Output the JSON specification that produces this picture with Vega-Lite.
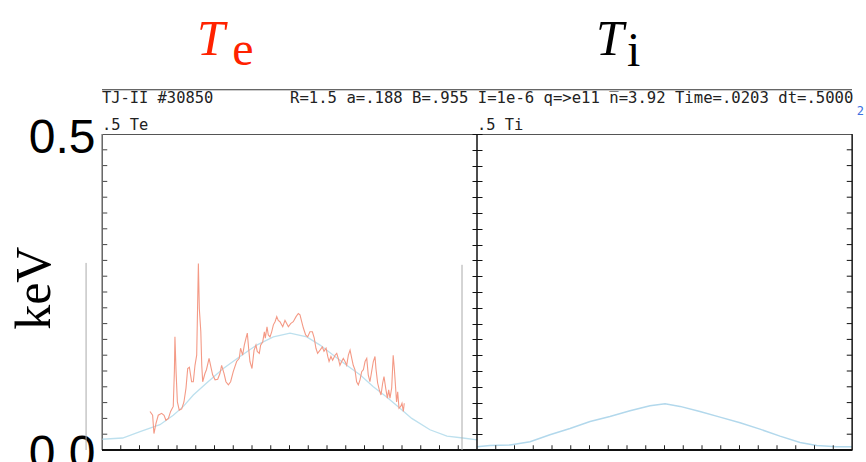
{
  "$schema": "https://vega.github.io/schema/vega-lite/v6.json",
  "autosize": {"type": "none"},
  "padding": {"left": 102, "top": 134, "right": 14, "bottom": 12},
  "width": 750,
  "height": 316,
  "background": "white",
  "config": {
    "view": {"stroke": "#555", "strokeWidth": 1},
    "axis": {"grid": false}
  },
  "datasets": {
    "te_model": [
      {"rho": -1.0, "te": 0.017}, {"rho": -0.89, "te": 0.019}, {"rho": -0.797, "te": 0.029},
      {"rho": -0.691, "te": 0.040}, {"rho": -0.62, "te": 0.055}, {"rho": -0.566, "te": 0.069},
      {"rho": -0.513, "te": 0.087}, {"rho": -0.442, "te": 0.106}, {"rho": -0.353, "te": 0.129},
      {"rho": -0.264, "te": 0.148}, {"rho": -0.175, "te": 0.166}, {"rho": -0.086, "te": 0.179},
      {"rho": 0.003, "te": 0.185}, {"rho": 0.092, "te": 0.179}, {"rho": 0.163, "te": 0.166},
      {"rho": 0.234, "te": 0.150}, {"rho": 0.305, "te": 0.134}, {"rho": 0.376, "te": 0.119},
      {"rho": 0.447, "te": 0.100}, {"rho": 0.518, "te": 0.084}, {"rho": 0.589, "te": 0.066},
      {"rho": 0.652, "te": 0.050}, {"rho": 0.749, "te": 0.032}, {"rho": 0.84, "te": 0.022},
      {"rho": 0.925, "te": 0.019}, {"rho": 1.0, "te": 0.016}
    ],
    "te_meas": [
      {"rho": -0.744, "te": 0.061}, {"rho": -0.730, "te": 0.055}, {"rho": -0.723, "te": 0.026},
      {"rho": -0.712, "te": 0.042}, {"rho": -0.700, "te": 0.055}, {"rho": -0.682, "te": 0.058},
      {"rho": -0.669, "te": 0.055}, {"rho": -0.659, "te": 0.047}, {"rho": -0.646, "te": 0.050},
      {"rho": -0.634, "te": 0.061}, {"rho": -0.620, "te": 0.069}, {"rho": -0.614, "te": 0.124},
      {"rho": -0.611, "te": 0.179}, {"rho": -0.605, "te": 0.124}, {"rho": -0.598, "te": 0.076},
      {"rho": -0.588, "te": 0.063}, {"rho": -0.575, "te": 0.065}, {"rho": -0.563, "te": 0.076},
      {"rho": -0.552, "te": 0.098}, {"rho": -0.543, "te": 0.129}, {"rho": -0.534, "te": 0.131},
      {"rho": -0.522, "te": 0.108}, {"rho": -0.513, "te": 0.108}, {"rho": -0.504, "te": 0.134},
      {"rho": -0.495, "te": 0.150}, {"rho": -0.491, "te": 0.214}, {"rho": -0.486, "te": 0.295},
      {"rho": -0.481, "te": 0.224}, {"rho": -0.473, "te": 0.187}, {"rho": -0.468, "te": 0.134},
      {"rho": -0.463, "te": 0.108}, {"rho": -0.451, "te": 0.121}, {"rho": -0.443, "te": 0.127},
      {"rho": -0.429, "te": 0.145}, {"rho": -0.419, "te": 0.131}, {"rho": -0.410, "te": 0.119},
      {"rho": -0.397, "te": 0.111}, {"rho": -0.383, "te": 0.112}, {"rho": -0.371, "te": 0.121},
      {"rho": -0.362, "te": 0.134}, {"rho": -0.349, "te": 0.121}, {"rho": -0.339, "te": 0.108},
      {"rho": -0.326, "te": 0.103}, {"rho": -0.314, "te": 0.108}, {"rho": -0.300, "te": 0.124},
      {"rho": -0.282, "te": 0.140}, {"rho": -0.268, "te": 0.145}, {"rho": -0.261, "te": 0.161},
      {"rho": -0.250, "te": 0.150}, {"rho": -0.241, "te": 0.166}, {"rho": -0.232, "te": 0.177},
      {"rho": -0.225, "te": 0.185}, {"rho": -0.218, "te": 0.161}, {"rho": -0.211, "te": 0.140},
      {"rho": -0.200, "te": 0.129}, {"rho": -0.189, "te": 0.158}, {"rho": -0.179, "te": 0.166},
      {"rho": -0.172, "te": 0.156}, {"rho": -0.161, "te": 0.153}, {"rho": -0.154, "te": 0.166},
      {"rho": -0.143, "te": 0.171}, {"rho": -0.134, "te": 0.187}, {"rho": -0.129, "te": 0.177},
      {"rho": -0.120, "te": 0.195}, {"rho": -0.113, "te": 0.182}, {"rho": -0.104, "te": 0.179},
      {"rho": -0.095, "te": 0.187}, {"rho": -0.086, "te": 0.198}, {"rho": -0.077, "te": 0.203},
      {"rho": -0.068, "te": 0.211}, {"rho": -0.060, "te": 0.205}, {"rho": -0.051, "te": 0.203},
      {"rho": -0.036, "te": 0.195}, {"rho": -0.024, "te": 0.205}, {"rho": -0.015, "te": 0.200},
      {"rho": -0.006, "te": 0.195}, {"rho": 0.006, "te": 0.200}, {"rho": 0.020, "te": 0.203},
      {"rho": 0.035, "te": 0.211}, {"rho": 0.047, "te": 0.216}, {"rho": 0.056, "te": 0.214},
      {"rho": 0.065, "te": 0.203}, {"rho": 0.074, "te": 0.193}, {"rho": 0.086, "te": 0.182},
      {"rho": 0.097, "te": 0.179}, {"rho": 0.109, "te": 0.187}, {"rho": 0.122, "te": 0.187},
      {"rho": 0.132, "te": 0.177}, {"rho": 0.141, "te": 0.161}, {"rho": 0.150, "te": 0.153},
      {"rho": 0.163, "te": 0.158}, {"rho": 0.175, "te": 0.163}, {"rho": 0.184, "te": 0.156},
      {"rho": 0.195, "te": 0.161}, {"rho": 0.204, "te": 0.148}, {"rho": 0.211, "te": 0.140},
      {"rho": 0.221, "te": 0.148}, {"rho": 0.230, "te": 0.142}, {"rho": 0.243, "te": 0.150},
      {"rho": 0.252, "te": 0.153}, {"rho": 0.260, "te": 0.145}, {"rho": 0.269, "te": 0.134},
      {"rho": 0.278, "te": 0.140}, {"rho": 0.287, "te": 0.145}, {"rho": 0.296, "te": 0.140},
      {"rho": 0.305, "te": 0.134}, {"rho": 0.314, "te": 0.150}, {"rho": 0.323, "te": 0.158},
      {"rho": 0.332, "te": 0.145}, {"rho": 0.340, "te": 0.134}, {"rho": 0.349, "te": 0.127},
      {"rho": 0.358, "te": 0.108}, {"rho": 0.367, "te": 0.103}, {"rho": 0.376, "te": 0.111},
      {"rho": 0.385, "te": 0.124}, {"rho": 0.394, "te": 0.127}, {"rho": 0.403, "te": 0.140},
      {"rho": 0.412, "te": 0.145}, {"rho": 0.420, "te": 0.119}, {"rho": 0.429, "te": 0.108},
      {"rho": 0.438, "te": 0.124}, {"rho": 0.447, "te": 0.140}, {"rho": 0.456, "te": 0.148},
      {"rho": 0.461, "te": 0.129}, {"rho": 0.470, "te": 0.106}, {"rho": 0.479, "te": 0.095},
      {"rho": 0.488, "te": 0.087}, {"rho": 0.497, "te": 0.106}, {"rho": 0.504, "te": 0.116},
      {"rho": 0.513, "te": 0.098}, {"rho": 0.522, "te": 0.082}, {"rho": 0.529, "te": 0.095},
      {"rho": 0.536, "te": 0.082}, {"rho": 0.545, "te": 0.098}, {"rho": 0.553, "te": 0.150},
      {"rho": 0.559, "te": 0.129}, {"rho": 0.566, "te": 0.098}, {"rho": 0.571, "te": 0.076},
      {"rho": 0.577, "te": 0.092}, {"rho": 0.584, "te": 0.066}, {"rho": 0.593, "te": 0.069},
      {"rho": 0.600, "te": 0.074}, {"rho": 0.607, "te": 0.061}, {"rho": 0.612, "te": 0.074}
    ],
    "ti_model": [
      {"rho": -1.0, "ti": 0.005}, {"rho": -0.931, "ti": 0.007}, {"rho": -0.824, "ti": 0.008},
      {"rho": -0.717, "ti": 0.013}, {"rho": -0.611, "ti": 0.024}, {"rho": -0.504, "ti": 0.034},
      {"rho": -0.397, "ti": 0.045}, {"rho": -0.291, "ti": 0.053}, {"rho": -0.184, "ti": 0.062},
      {"rho": -0.077, "ti": 0.070}, {"rho": 0.003, "ti": 0.073}, {"rho": 0.083, "ti": 0.069},
      {"rho": 0.189, "ti": 0.061}, {"rho": 0.296, "ti": 0.052}, {"rho": 0.403, "ti": 0.043},
      {"rho": 0.509, "ti": 0.033}, {"rho": 0.616, "ti": 0.022}, {"rho": 0.723, "ti": 0.012},
      {"rho": 0.812, "ti": 0.007}, {"rho": 0.918, "ti": 0.005}, {"rho": 1.0, "ti": 0.005}
    ],
    "kev_levels": [
      {"kev": 0.025}, {"kev": 0.05}, {"kev": 0.075}, {"kev": 0.1}, {"kev": 0.125},
      {"kev": 0.15}, {"kev": 0.175}, {"kev": 0.2}, {"kev": 0.225}, {"kev": 0.25}, {"kev": 0.275},
      {"kev": 0.3}, {"kev": 0.325}, {"kev": 0.35}, {"kev": 0.375}, {"kev": 0.4}, {"kev": 0.425},
      {"kev": 0.45}, {"kev": 0.475}
    ],
    "rho_levels": [
      {"r": -0.9}, {"r": -0.8}, {"r": -0.7}, {"r": -0.6}, {"r": -0.5}, {"r": -0.4}, {"r": -0.3},
      {"r": -0.2}, {"r": -0.1}, {"r": 0}, {"r": 0.1}, {"r": 0.2}, {"r": 0.3}, {"r": 0.4},
      {"r": 0.5}, {"r": 0.6}, {"r": 0.7}, {"r": 0.8}, {"r": 0.9}, {"r": 1.1}, {"r": 1.2},
      {"r": 1.3}, {"r": 1.4}, {"r": 1.5}, {"r": 1.6}, {"r": 1.7}, {"r": 1.8}, {"r": 1.9},
      {"r": 2}, {"r": 2.1}, {"r": 2.2}, {"r": 2.3}, {"r": 2.4}, {"r": 2.5}, {"r": 2.6},
      {"r": 2.7}, {"r": 2.8}, {"r": 2.9}
    ],
    "one": [{}]
  },
  "resolve": {
    "scale": {"x": "independent"},
    "axis": {"x": "independent", "y": "independent"}
  },
  "layer": [
    {
      "data": {"name": "te_model"},
      "mark": {"type": "line", "color": "#bde0ee", "strokeWidth": 1.3},
      "encoding": {
        "x": {"field": "rho", "type": "quantitative", "scale": {"domain": [-1, 3], "nice": false, "zero": false}, "axis": null},
        "y": {
          "field": "te", "type": "quantitative",
          "scale": {"domain": [0, 0.5], "nice": false, "zero": false},
          "axis": {
            "orient": "left", "title": null, "domain": false, "ticks": false,
            "values": [0, 0.5],
            "labelExpr": "datum.value == 0 ? '0.0' : '0.5'",
            "labelFont": "Liberation Sans", "labelFontSize": 48, "labelColor": "#000",
            "labelBaseline": "middle", "labelPadding": 7, "labelOffset": 4,
            "labelOverlap": false, "labelBound": false
          }
        }
      }
    },
    {
      "data": {"name": "te_meas"},
      "mark": {"type": "line", "color": "#f49a86", "strokeWidth": 1.1},
      "encoding": {
        "x": {"field": "rho", "type": "quantitative", "scale": {"domain": [-1, 3], "nice": false, "zero": false}, "axis": null},
        "y": {
          "field": "te", "type": "quantitative",
          "scale": {"domain": [0, 0.5], "nice": false, "zero": false},
          "axis": {
            "orient": "right", "offset": -380, "title": null, "labels": false, "domain": false,
            "values": [0, 0.025, 0.05, 0.075, 0.1, 0.125, 0.15, 0.175, 0.2, 0.225, 0.25, 0.275, 0.3, 0.325, 0.35, 0.375, 0.4, 0.425, 0.45, 0.475, 0.5],
            "tickSize": 10, "tickColor": "#111"
          }
        }
      }
    },
    {
      "data": {"name": "ti_model"},
      "mark": {"type": "line", "color": "#b2d8ec", "strokeWidth": 1.5},
      "encoding": {
        "x": {"field": "rho", "type": "quantitative", "scale": {"domain": [-3, 1], "nice": false, "zero": false}, "axis": null},
        "y": {"field": "ti", "type": "quantitative", "scale": {"domain": [0, 0.5], "nice": false, "zero": false}, "axis": null}
      }
    },
    {
      "data": {"name": "kev_levels"},
      "mark": {"type": "rule", "color": "#444", "strokeWidth": 1},
      "encoding": {
        "x": {"datum": -1, "type": "quantitative", "scale": {"domain": [-1, 3], "nice": false, "zero": false}, "axis": null},
        "x2": {"datum": -0.972},
        "y": {"field": "kev", "type": "quantitative", "scale": {"domain": [0, 0.5], "nice": false, "zero": false}, "axis": null}
      }
    },
    {
      "data": {"name": "kev_levels"},
      "mark": {"type": "rule", "color": "#111", "strokeWidth": 1},
      "encoding": {
        "x": {"datum": 2.972, "type": "quantitative", "scale": {"domain": [-1, 3], "nice": false, "zero": false}, "axis": null},
        "x2": {"datum": 3},
        "y": {"field": "kev", "type": "quantitative", "scale": {"domain": [0, 0.5], "nice": false, "zero": false}, "axis": null}
      }
    },
    {
      "data": {"name": "rho_levels"},
      "mark": {"type": "rule", "color": "#222", "strokeWidth": 1},
      "encoding": {
        "x": {"field": "r", "type": "quantitative", "scale": {"domain": [-1, 3], "nice": false, "zero": false}, "axis": null},
        "y": {"datum": 0, "type": "quantitative", "scale": {"domain": [0, 0.5], "nice": false, "zero": false}, "axis": null},
        "y2": {"datum": 0.0075}
      }
    },
    {
      "data": {"name": "one"},
      "mark": {"type": "rule", "color": "#111", "strokeWidth": 1.5},
      "encoding": {
        "x": {"datum": 1, "type": "quantitative", "scale": {"domain": [-1, 3], "nice": false, "zero": false}, "axis": null},
        "y": {"datum": 0, "type": "quantitative", "scale": {"domain": [0, 0.5], "nice": false, "zero": false}, "axis": null},
        "y2": {"datum": 0.5}
      }
    },
    {
      "data": {"name": "one"},
      "mark": {"type": "rule", "color": "#111", "strokeWidth": 1.2},
      "encoding": {
        "x": {"datum": 3, "type": "quantitative", "scale": {"domain": [-1, 3], "nice": false, "zero": false}, "axis": null},
        "y": {"datum": 0, "type": "quantitative", "scale": {"domain": [0, 0.5], "nice": false, "zero": false}, "axis": null},
        "y2": {"datum": 0.5}
      }
    },
    {
      "data": {"name": "one"},
      "mark": {"type": "rule", "color": "#777", "strokeWidth": 1.2},
      "encoding": {
        "x": {"datum": -1, "type": "quantitative", "scale": {"domain": [-1, 3], "nice": false, "zero": false}, "axis": null},
        "y": {"datum": 0, "type": "quantitative", "scale": {"domain": [0, 0.5], "nice": false, "zero": false}, "axis": null},
        "y2": {"datum": 0.5}
      }
    },
    {
      "data": {"name": "one"},
      "mark": {"type": "rule", "color": "#111", "strokeWidth": 2.2},
      "encoding": {
        "x": {"datum": -1, "type": "quantitative", "scale": {"domain": [-1, 3], "nice": false, "zero": false}, "axis": null},
        "x2": {"datum": 3},
        "y": {"datum": 0, "type": "quantitative", "scale": {"domain": [0, 0.5], "nice": false, "zero": false}, "axis": null}
      }
    },
    {
      "data": {"name": "one"},
      "mark": {"type": "rule", "color": "#aaa", "strokeWidth": 1},
      "encoding": {
        "x": {"datum": -1.085, "type": "quantitative", "scale": {"domain": [-1, 3], "nice": false, "zero": false}, "axis": null},
        "y": {"datum": 0, "type": "quantitative", "scale": {"domain": [0, 0.5], "nice": false, "zero": false}, "axis": null},
        "y2": {"datum": 0.296}
      }
    },
    {
      "data": {"name": "one"},
      "mark": {"type": "rule", "color": "#aaa", "strokeWidth": 1},
      "encoding": {
        "x": {"datum": 0.92, "type": "quantitative", "scale": {"domain": [-1, 3], "nice": false, "zero": false}, "axis": null},
        "y": {"datum": 0, "type": "quantitative", "scale": {"domain": [0, 0.5], "nice": false, "zero": false}, "axis": null},
        "y2": {"datum": 0.293}
      }
    },
    {
      "data": {"name": "one"},
      "mark": {"type": "rule", "color": "#333", "strokeWidth": 1},
      "encoding": {
        "x": {"datum": -1, "type": "quantitative", "scale": {"domain": [-1, 3], "nice": false, "zero": false}, "axis": null},
        "x2": {"datum": 3},
        "y": {"datum": 0.570, "type": "quantitative", "scale": {"domain": [0, 0.5], "nice": false, "zero": false}, "axis": null}
      }
    },
    {
      "data": {"name": "one"},
      "mark": {"type": "text", "align": "left", "baseline": "alphabetic", "font": "Liberation Serif", "fontStyle": "italic", "fontSize": 50, "color": "#ff2200"},
      "encoding": {
        "x": {"datum": -0.493, "type": "quantitative", "scale": {"domain": [-1, 3], "nice": false, "zero": false}, "axis": null},
        "y": {"datum": 0.625, "type": "quantitative", "scale": {"domain": [0, 0.5], "nice": false, "zero": false}, "axis": null},
        "text": {"value": "T"}
      }
    },
    {
      "data": {"name": "one"},
      "mark": {"type": "text", "align": "left", "baseline": "alphabetic", "font": "Liberation Serif", "fontSize": 48, "color": "#ff2200"},
      "encoding": {
        "x": {"datum": -0.305, "type": "quantitative", "scale": {"domain": [-1, 3], "nice": false, "zero": false}, "axis": null},
        "y": {"datum": 0.609, "type": "quantitative", "scale": {"domain": [0, 0.5], "nice": false, "zero": false}, "axis": null},
        "text": {"value": "e"}
      }
    },
    {
      "data": {"name": "one"},
      "mark": {"type": "text", "align": "left", "baseline": "alphabetic", "font": "Liberation Serif", "fontStyle": "italic", "fontSize": 50, "color": "#000"},
      "encoding": {
        "x": {"datum": 1.635, "type": "quantitative", "scale": {"domain": [-1, 3], "nice": false, "zero": false}, "axis": null},
        "y": {"datum": 0.625, "type": "quantitative", "scale": {"domain": [0, 0.5], "nice": false, "zero": false}, "axis": null},
        "text": {"value": "T"}
      }
    },
    {
      "data": {"name": "one"},
      "mark": {"type": "text", "align": "left", "baseline": "alphabetic", "font": "Liberation Serif", "fontSize": 48, "color": "#000"},
      "encoding": {
        "x": {"datum": 1.8, "type": "quantitative", "scale": {"domain": [-1, 3], "nice": false, "zero": false}, "axis": null},
        "y": {"datum": 0.608, "type": "quantitative", "scale": {"domain": [0, 0.5], "nice": false, "zero": false}, "axis": null},
        "text": {"value": "i"}
      }
    },
    {
      "data": {"name": "one"},
      "mark": {"type": "text", "align": "center", "baseline": "middle", "font": "Liberation Serif", "fontSize": 50, "angle": 270, "color": "#000"},
      "encoding": {
        "x": {"datum": -1.357, "type": "quantitative", "scale": {"domain": [-1, 3], "nice": false, "zero": false}, "axis": null},
        "y": {"datum": 0.256, "type": "quantitative", "scale": {"domain": [0, 0.5], "nice": false, "zero": false}, "axis": null},
        "text": {"value": "keV"}
      }
    },
    {
      "data": {"name": "one"},
      "mark": {"type": "text", "align": "left", "baseline": "alphabetic", "font": "DejaVu Sans Mono", "fontSize": 15.4, "color": "#222"},
      "encoding": {
        "x": {"datum": -1, "type": "quantitative", "scale": {"domain": [-1, 3], "nice": false, "zero": false}, "axis": null},
        "y": {"datum": 0.549, "type": "quantitative", "scale": {"domain": [0, 0.5], "nice": false, "zero": false}, "axis": null},
        "text": {"value": "TJ-II #30850"}
      }
    },
    {
      "data": {"name": "one"},
      "mark": {"type": "text", "align": "left", "baseline": "alphabetic", "font": "DejaVu Sans Mono", "fontSize": 15.6, "color": "#222"},
      "encoding": {
        "x": {"datum": 0.003, "type": "quantitative", "scale": {"domain": [-1, 3], "nice": false, "zero": false}, "axis": null},
        "y": {"datum": 0.549, "type": "quantitative", "scale": {"domain": [0, 0.5], "nice": false, "zero": false}, "axis": null},
        "text": {"value": "R=1.5  a=.188 B=.955 I=1e-6 q=>e11 n̅=3.92 Time=.0203 dt=.5000"}
      }
    },
    {
      "data": {"name": "one"},
      "mark": {"type": "text", "align": "left", "baseline": "alphabetic", "font": "DejaVu Sans Mono", "fontSize": 15.4, "color": "#222"},
      "encoding": {
        "x": {"datum": -1, "type": "quantitative", "scale": {"domain": [-1, 3], "nice": false, "zero": false}, "axis": null},
        "y": {"datum": 0.506, "type": "quantitative", "scale": {"domain": [0, 0.5], "nice": false, "zero": false}, "axis": null},
        "text": {"value": ".5  Te"}
      }
    },
    {
      "data": {"name": "one"},
      "mark": {"type": "text", "align": "left", "baseline": "alphabetic", "font": "DejaVu Sans Mono", "fontSize": 15.4, "color": "#222"},
      "encoding": {
        "x": {"datum": 1.0, "type": "quantitative", "scale": {"domain": [-1, 3], "nice": false, "zero": false}, "axis": null},
        "y": {"datum": 0.506, "type": "quantitative", "scale": {"domain": [0, 0.5], "nice": false, "zero": false}, "axis": null},
        "text": {"value": ".5  Ti"}
      }
    },
    {
      "data": {"name": "one"},
      "mark": {"type": "text", "align": "left", "baseline": "alphabetic", "font": "DejaVu Sans Mono", "fontSize": 12, "color": "#3b6fe0"},
      "encoding": {
        "x": {"datum": 3.025, "type": "quantitative", "scale": {"domain": [-1, 3], "nice": false, "zero": false}, "axis": null},
        "y": {"datum": 0.53, "type": "quantitative", "scale": {"domain": [0, 0.5], "nice": false, "zero": false}, "axis": null},
        "text": {"value": "2"}
      }
    }
  ]
}
